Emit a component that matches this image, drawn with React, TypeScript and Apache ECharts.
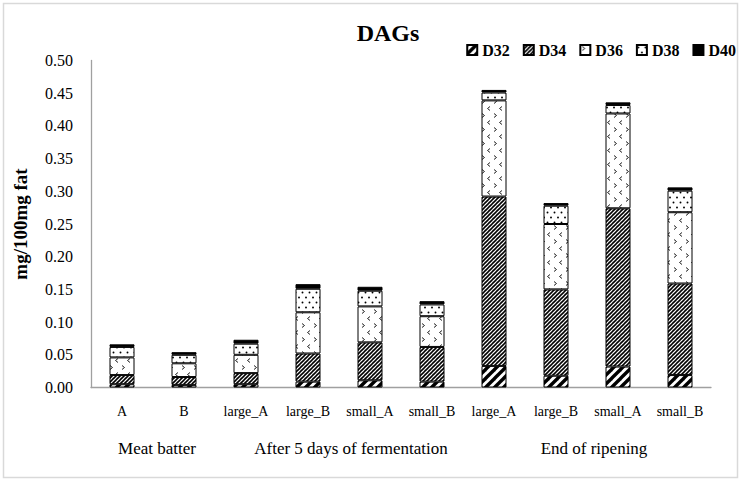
import React, { useEffect, useRef } from "react";
import * as echarts from "echarts";

const categories = ["A", "B", "large_A", "large_B", "small_A", "small_B", "large_A", "large_B", "small_A", "small_B"];
const seriesNames = ["D32", "D34", "D36", "D38", "D40"];
const d32 = [0.005, 0.004, 0.005, 0.009, 0.011, 0.009, 0.033, 0.018, 0.032, 0.019];
const d34 = [0.014, 0.012, 0.017, 0.043, 0.058, 0.053, 0.259, 0.132, 0.242, 0.14];
const d36 = [0.027, 0.021, 0.028, 0.063, 0.055, 0.047, 0.147, 0.1, 0.145, 0.109];
const d38 = [0.016, 0.013, 0.017, 0.036, 0.024, 0.018, 0.012, 0.028, 0.013, 0.033];
const d40 = [0.004, 0.004, 0.006, 0.007, 0.006, 0.005, 0.004, 0.004, 0.004, 0.005];
const groupLabels = ["Meat batter", "After 5 days of fermentation", "End of ripening"];
const yTicks = { min: 0, max: 0.5, interval: 0.05 };

const FONT = '"Liberation Serif", "Times New Roman", serif';

function makeCanvas(w: number, h: number, draw: (c: CanvasRenderingContext2D) => void) {
  const cv = document.createElement("canvas");
  cv.width = w;
  cv.height = h;
  const c = cv.getContext("2d")!;
  c.fillStyle = "#fff";
  c.fillRect(0, 0, w, h);
  draw(c);
  return cv;
}

function diag(c: CanvasRenderingContext2D, s: number, lw: number) {
  c.strokeStyle = "#000";
  c.lineWidth = lw;
  c.lineCap = "square";
  for (const o of [-s, 0, s]) {
    c.beginPath();
    c.moveTo(o, s);
    c.lineTo(o + s, 0);
    c.stroke();
  }
}

function makePatterns() {
  const p32 = makeCanvas(9, 9, (c) => diag(c, 9, 3.4));
  const p34 = makeCanvas(4, 4, (c) => diag(c, 4, 1.6));
  const p36 = makeCanvas(12, 14, (c) => {
    c.strokeStyle = "#222";
    c.lineWidth = 1;
    c.beginPath();
    c.moveTo(2, 1.5);
    c.lineTo(4.5, 3.5);
    c.lineTo(2, 5.5);
    c.stroke();
    c.beginPath();
    c.moveTo(10, 8.5);
    c.lineTo(7.5, 10.5);
    c.lineTo(10, 12.5);
    c.stroke();
  });
  const p38 = makeCanvas(7, 10, (c) => {
    c.fillStyle = "#000";
    c.beginPath();
    c.arc(1.5, 2.5, 0.95, 0, Math.PI * 2);
    c.fill();
    c.beginPath();
    c.arc(5, 7.5, 0.95, 0, Math.PI * 2);
    c.fill();
  });
  const pat = (cv: HTMLCanvasElement) => ({
    image: cv,
    repeat: "repeat",
    imageWidth: cv.width,
    imageHeight: cv.height,
  });
  return [pat(p32), pat(p34), pat(p36), pat(p38), "#000"];
}

export default function App() {
  const ref = useRef<HTMLDivElement>(null);
  useEffect(() => {
    if (!ref.current) return;
    const chart = echarts.init(ref.current, null, { renderer: "svg" });
    const fills = makePatterns();
    const values = [d32, d34, d36, d38, d40];
    const option: any = {
      animation: false,
      backgroundColor: "#fff",
      grid: { left: 91, right: 33, top: 60.5, bottom: 93.5, containLabel: false },
      legend: {
        right: 8,
        top: 42,
        padding: 0,
        itemWidth: 10,
        itemHeight: 10,
        itemGap: 13,
        icon: "rect",
        data: seriesNames,
        textStyle: { fontFamily: FONT, fontWeight: "bold", fontSize: 16, color: "#000" },
      },
      xAxis: {
        type: "category",
        data: categories,
        axisLine: { lineStyle: { color: "#a0a0a0", width: 1.3 } },
        axisTick: { show: false },
        axisLabel: { interval: 0, fontFamily: FONT, fontSize: 14, color: "#000", margin: 17 },
      },
      yAxis: {
        type: "value",
        min: yTicks.min,
        max: yTicks.max,
        interval: yTicks.interval,
        name: "mg/100mg fat",
        nameLocation: "middle",
        nameRotate: 90,
        nameGap: 61,
        nameTextStyle: { fontFamily: FONT, fontWeight: "bold", fontSize: 19, color: "#000" },
        axisLine: { show: true, lineStyle: { color: "#a0a0a0", width: 1.3 } },
        axisTick: { show: false },
        splitLine: { show: false },
        axisLabel: {
          fontFamily: FONT,
          fontSize: 16,
          color: "#000",
          margin: 18,
          formatter: (v: number) => v.toFixed(2),
        },
      },
      graphic: [
        {
          type: "rect",
          shape: { x: 3.5, y: 3.5, width: 734, height: 474 },
          style: { fill: "none", stroke: "#d9d9d9", lineWidth: 1.5 },
          silent: true,
        },
        {
          type: "text",
          x: 388,
          y: 33,
          style: {
            text: "DAGs",
            fontFamily: FONT,
            fontWeight: "bold",
            fontSize: 24,
            fill: "#000",
            align: "center",
            verticalAlign: "middle",
          },
        },
        ...groupLabels.map((t, i) => ({
          type: "text",
          x: [157, 351, 594][i],
          y: 448,
          style: {
            text: t,
            fontFamily: FONT,
            fontSize: 17,
            fill: "#000",
            align: "center",
            verticalAlign: "middle",
          },
        })),
      ],
      series: seriesNames.map((name, i) => ({
        name,
        type: "bar",
        stack: "total",
        barWidth: 25,
        data: values[i],
        itemStyle: { color: fills[i], borderColor: "#000", borderWidth: 1 },
        emphasis: { disabled: true },
      })),
    };
    chart.setOption(option);
    return () => chart.dispose();
  }, []);
  return <div ref={ref} style={{ position: "fixed", left: 0, top: 0, width: 744, height: 481 }} />;
}
